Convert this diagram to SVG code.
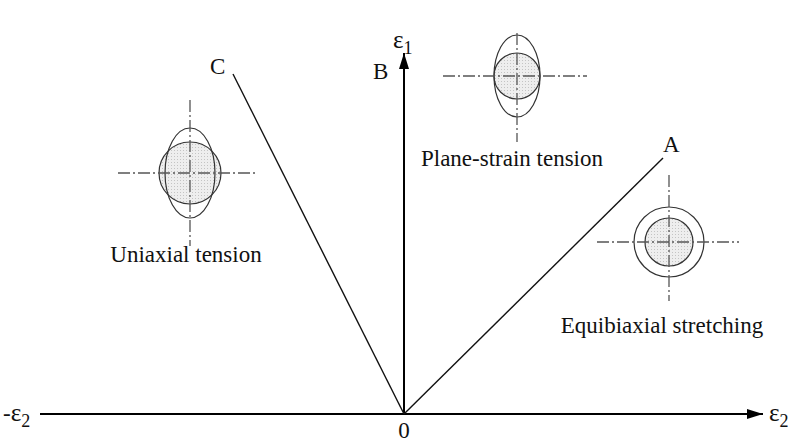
<svg xmlns="http://www.w3.org/2000/svg" width="791" height="444" viewBox="0 0 791 444">
<style>
.t{font-family:"Liberation Serif","Times New Roman",serif;font-size:23px;fill:#111}
.g{font-size:25px}
.ax{stroke:#000;stroke-width:2;fill:none}
.ln{stroke:#111;stroke-width:1.4;fill:none}
.cl{stroke:#555;stroke-width:1.3;stroke-dasharray:12 3 2 3;fill:none}
.ol{stroke:#333;stroke-width:1.2;fill:none}
.sh{stroke:#333;stroke-width:1.2;fill:url(#dots)}
</style>
<defs>
<pattern id="dots" width="3" height="3" patternUnits="userSpaceOnUse">
<rect width="3" height="3" fill="#eeeeee"/>
<rect width="1" height="1" fill="#c4c4c4"/>
</pattern>
<marker id="arr" markerWidth="16" markerHeight="10" refX="16" refY="5" orient="auto" markerUnits="userSpaceOnUse">
<path d="M0,0 L16,5 L0,10 Z" fill="#000"/>
</marker>
</defs>
<g id="connectors">
<line class="ax" x1="40" y1="414" x2="763" y2="414" marker-end="url(#arr)"/>
<line class="ax" x1="404" y1="414" x2="404" y2="53" marker-end="url(#arr)"/>
<line class="ln" x1="404" y1="414" x2="233" y2="74"/>
<line class="ln" x1="404" y1="414" x2="663" y2="158"/>
</g>
<g id="labels">
<text class="t" x="3" y="421">-<tspan class="g">ε</tspan><tspan font-size="18" dy="6">2</tspan></text>
<text class="t" x="769" y="421"><tspan class="g">ε</tspan><tspan font-size="18" dy="6">2</tspan></text>
<text class="t" x="393" y="48"><tspan class="g">ε</tspan><tspan font-size="18" dy="6">1</tspan></text>
<text class="t" x="404" y="438" font-size="22" text-anchor="middle">0</text>
<text class="t" x="373" y="79">B</text>
<text class="t" x="210" y="74">C</text>
<text class="t" x="663" y="152">A</text>
</g>
<g id="uniaxial">
<circle class="sh" cx="190" cy="173" r="31"/>
<ellipse class="ol" cx="190" cy="173" rx="25" ry="45"/>
<line class="cl" x1="118" y1="173" x2="257" y2="173"/>
<line class="cl" x1="190" y1="100" x2="190" y2="246"/>
<text class="t" x="186" y="262" text-anchor="middle">Uniaxial tension</text>
</g>
<g id="plane-strain">
<circle class="sh" cx="517" cy="76" r="23"/>
<ellipse class="ol" cx="517" cy="76" rx="23" ry="41"/>
<line class="cl" x1="443" y1="76" x2="587" y2="76"/>
<line class="cl" x1="517" y1="33" x2="517" y2="142"/>
<text class="t" x="512" y="166" text-anchor="middle">Plane-strain tension</text>
</g>
<g id="equibiaxial">
<circle class="ol" cx="669" cy="242" r="35"/>
<circle class="sh" cx="669" cy="242" r="24"/>
<line class="cl" x1="597" y1="242" x2="739" y2="242"/>
<line class="cl" x1="669" y1="175" x2="669" y2="301"/>
<text class="t" x="662" y="333" text-anchor="middle">Equibiaxial stretching</text>
</g>
</svg>
